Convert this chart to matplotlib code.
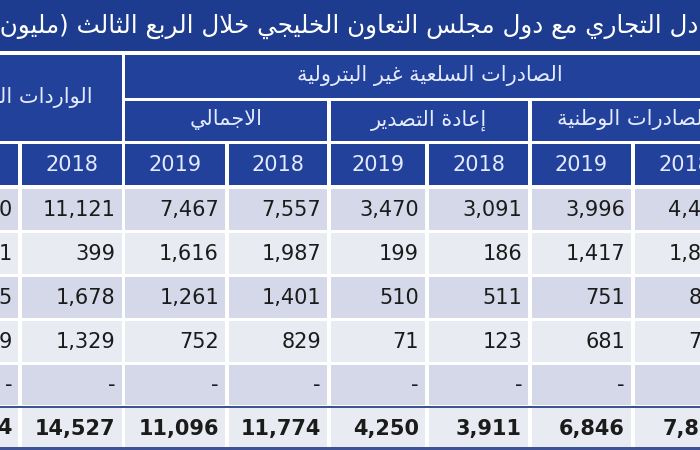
import matplotlib
matplotlib.use("Agg")
import matplotlib.pyplot as plt
from matplotlib.patches import Rectangle

# ---------------- data ----------------
title = 'التبادل التجاري مع دول مجلس التعاون الخليجي خلال الربع الثالث (مليون ريال)'
group_exports = 'الصادرات السلعية غير البترولية'
group_imports = 'الواردات السلعية'
sub_headers = ['الاجمالي', 'إعادة التصدير', 'الصادرات الوطنية']
years = ['2019', '2018', '2019', '2018', '2019', '2018', '2019', '2018']

imports_2019_tail = ['0', '1', '5', '9', '-', '4']   # only last digit visible
imports_2018 = [11121, 399, 1678, 1329, None, 14527]
total_2019 = [7467, 1616, 1261, 752, None, 11096]
total_2018 = [7557, 1987, 1401, 829, None, 11774]
reexport_2019 = [3470, 199, 510, 71, None, 4250]
reexport_2018 = [3091, 186, 511, 123, None, 3911]
national_2019 = [3996, 1417, 751, 681, None, 6846]
national_2018 = [4466, 1801, 890, 706, None, 7863]

# ---------------- arabic shaping ----------------
DUAL = {'ئ': 0xFE89, 'ب': 0xFE8F, 'ت': 0xFE95, 'ث': 0xFE99, 'ج': 0xFE9D, 'ح': 0xFEA1,
        'خ': 0xFEA5, 'س': 0xFEB1, 'ش': 0xFEB5, 'ص': 0xFEB9, 'ض': 0xFEBD, 'ط': 0xFEC1,
        'ظ': 0xFEC5, 'ع': 0xFEC9, 'غ': 0xFECD, 'ف': 0xFED1, 'ق': 0xFED5, 'ك': 0xFED9,
        'ل': 0xFEDD, 'م': 0xFEE1, 'ن': 0xFEE5, 'ه': 0xFEE9, 'ي': 0xFEF1}
RIGHT = {'آ': 0xFE81, 'أ': 0xFE83, 'ؤ': 0xFE85, 'إ': 0xFE87, 'ا': 0xFE8D, 'ة': 0xFE93,
         'د': 0xFEA9, 'ذ': 0xFEAB, 'ر': 0xFEAD, 'ز': 0xFEAF, 'و': 0xFEED, 'ى': 0xFEEF}
LAMALEF = {'آ': 0xFEF5, 'أ': 0xFEF7, 'إ': 0xFEF9, 'ا': 0xFEFB}


def shape(s):
    toks = []
    i = 0
    while i < len(s):
        c = s[i]
        if c == 'ل' and i + 1 < len(s) and s[i + 1] in LAMALEF:
            toks.append(('R', LAMALEF[s[i + 1]]))
            i += 2
            continue
        if c in DUAL:
            toks.append(('D', DUAL[c]))
        elif c in RIGHT:
            toks.append(('R', RIGHT[c]))
        else:
            toks.append(('N', c))
        i += 1
    out = []
    for k, (t, v) in enumerate(toks):
        if t == 'N':
            out.append(v)
            continue
        prev = toks[k - 1][0] if k > 0 else 'N'
        nxt = toks[k + 1][0] if k + 1 < len(toks) else 'N'
        jp = prev == 'D'
        jn = t == 'D' and nxt in ('D', 'R')
        if t == 'R':
            out.append(chr(v + 1 if jp else v))
        else:
            out.append(chr(v + (3 if (jp and jn) else 1 if jp else 2 if jn else 0)))
    vis = ''.join(out)[::-1]
    return vis.translate(str.maketrans('()', ')('))


def fmt(v):
    return '-' if v is None else f'{v:,}'


# ---------------- layout ----------------
W, H = 700, 450
TITLE_BG = '#1d3c8f'
HEAD_BG = '#22419a'
HEAD_TXT = '#e4eaff'
ROW_DARK = '#d4d8e8'
ROW_LIGHT = '#e9ebf3'
LINE_BLUE = '#3e5296'
GAP = 1.6
TITLE_FS = 17.7

col_edges = [-83, 20, 123.5, 227, 329, 427, 530, 633, 736]
row_edges = [187, 231, 275, 319, 363, 406]
total_row = (408, 447)

fig = plt.figure(figsize=(7, 4.5), dpi=100)
fig.patch.set_facecolor('white')
ax = fig.add_axes([0, 0, 1, 1])
ax.set_xlim(0, W)
ax.set_ylim(H, 0)
ax.axis('off')


def cell(x0, x1, y0, y1, color):
    ax.add_patch(Rectangle((x0 + GAP, y0), x1 - x0 - 2 * GAP, y1 - y0, facecolor=color,
                           edgecolor='none'))


# title band
ax.add_patch(Rectangle((-10, -10), W + 20, 61, facecolor=TITLE_BG, edgecolor='none'))
afont = dict(family='DejaVu Sans')
t = ax.text(0, 26, shape(title), fontsize=TITLE_FS, color='white', ha='right', va='center',
            **afont)
fig.canvas.draw()
r = fig.canvas.get_renderer()
probe = ax.text(0, 0, shape('التبا'), fontsize=TITLE_FS, **afont)
pw = probe.get_window_extent(r).width
probe.remove()
t.set_x(698 + pw)

# header rows
cell(col_edges[0], col_edges[2], 55, 141, HEAD_BG)
ax.text((col_edges[0] + col_edges[2]) / 2, 97, shape(group_imports), fontsize=15,
        color=HEAD_TXT, ha='center', va='center', **afont)
cell(col_edges[2], col_edges[8], 55, 97.5, HEAD_BG)
ax.text((col_edges[2] + col_edges[8]) / 2, 76, shape(group_exports), fontsize=15,
        color=HEAD_TXT, ha='center', va='center', **afont)
for j, name in enumerate(sub_headers):
    a, b = col_edges[2 + 2 * j], col_edges[4 + 2 * j]
    cell(a, b, 100.5, 141, HEAD_BG)
    ax.text((a + b) / 2, 120, shape(name), fontsize=15, color=HEAD_TXT,
            ha='center', va='center', **afont)

# year row
for j, y in enumerate(years):
    a, b = col_edges[j], col_edges[j + 1]
    cell(a, b, 144, 185, HEAD_BG)
    ax.text((a + b) / 2, 165, y, fontsize=15, color=HEAD_TXT, ha='center', va='center')

# data rows
columns = [imports_2019_tail,
           [fmt(v) for v in imports_2018],
           [fmt(v) for v in total_2019],
           [fmt(v) for v in total_2018],
           [fmt(v) for v in reexport_2019],
           [fmt(v) for v in reexport_2018],
           [fmt(v) for v in national_2019],
           [fmt(v) for v in national_2018]]

n_rows = len(imports_2018)
for i in range(n_rows):
    if i < n_rows - 1:
        y0, y1 = row_edges[i] + 1.5, row_edges[i + 1] - 1.5
        color = ROW_DARK if i % 2 == 0 else ROW_LIGHT
        weight = 'normal'
    else:
        y0, y1 = total_row
        color = ROW_LIGHT
        weight = 'bold'
    for j in range(len(columns)):
        a, b = col_edges[j], col_edges[j + 1]
        cell(a, b, y0, y1, color)
        ax.text(b - 8, (y0 + y1) / 2 + 1, columns[j][i], fontsize=15, color='#1b1b1b',
                ha='right', va='center', fontweight=weight)

ax.add_patch(Rectangle((-10, 405.5), W + 20, 2.2, facecolor=LINE_BLUE, edgecolor='none'))
ax.add_patch(Rectangle((-10, 447), W + 20, 2.5, facecolor=LINE_BLUE, edgecolor='none'))

fig.savefig('out.png', dpi=100)
